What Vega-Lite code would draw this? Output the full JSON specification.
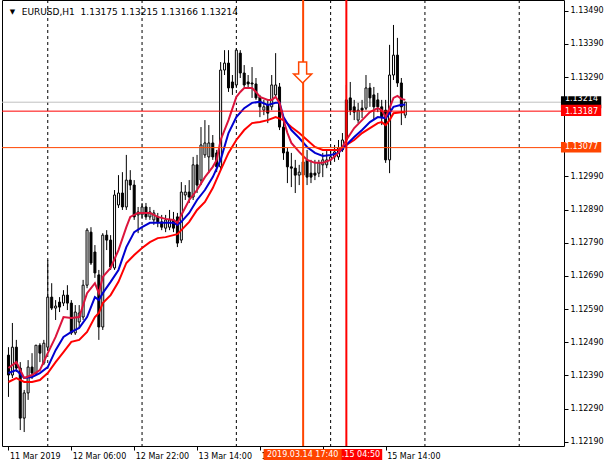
{
"$schema": "https://vega.github.io/schema/vega-lite/v6.json",
"width": 562, "height": 446,
"autosize": {"type": "none"},
"padding": {"left": 2, "top": 0, "right": 46, "bottom": 20},
"background": "white",
"config": {"view": {"stroke": "black", "strokeWidth": 1, "fill": "white"},
 "axis": {"labelOverlap": false, "labelFlush": false, "labelBound": false, "labelFont": "DejaVu Sans", "labelFontSize": 8, "labelColor": "black", "tickColor": "black", "tickSize": 4, "domain": false, "grid": false, "title": null}},
"datasets": {
"candles": [
{"t":14,"o":1.12451,"h":1.12475,"l":1.12325,"c":1.12391},
{"t":15,"o":1.12391,"h":1.12548,"l":1.12382,"c":1.12475},
{"t":16,"o":1.12475,"h":1.12497,"l":1.12400,"c":1.12412},
{"t":17,"o":1.12412,"h":1.12430,"l":1.12225,"c":1.12261},
{"t":18,"o":1.12261,"h":1.12346,"l":1.12219,"c":1.12337},
{"t":19,"o":1.12337,"h":1.12436,"l":1.12316,"c":1.12415},
{"t":20,"o":1.12415,"h":1.12457,"l":1.12379,"c":1.12397},
{"t":21,"o":1.12397,"h":1.12481,"l":1.12391,"c":1.12481},
{"t":22,"o":1.12481,"h":1.12487,"l":1.12430,"c":1.12457},
{"t":23,"o":1.12427,"h":1.12497,"l":1.12421,"c":1.12487},
{"t":24,"o":1.12475,"h":1.12738,"l":1.12466,"c":1.12626},
{"t":25,"o":1.12626,"h":1.12668,"l":1.12587,"c":1.12593},
{"t":26,"o":1.12593,"h":1.12617,"l":1.12557,"c":1.12599},
{"t":27,"o":1.12611,"h":1.12626,"l":1.12581,"c":1.12596},
{"t":28,"o":1.12608,"h":1.12647,"l":1.12599,"c":1.12632},
{"t":29,"o":1.12632,"h":1.12662,"l":1.12587,"c":1.12608},
{"t":30,"o":1.12608,"h":1.12617,"l":1.12512,"c":1.12518},
{"t":31,"o":1.12518,"h":1.12602,"l":1.12512,"c":1.12581},
{"t":32,"o":1.12551,"h":1.12602,"l":1.12533,"c":1.12578},
{"t":33,"o":1.12566,"h":1.12678,"l":1.12557,"c":1.12662},
{"t":34,"o":1.12662,"h":1.12834,"l":1.12653,"c":1.12828},
{"t":35,"o":1.12822,"h":1.12837,"l":1.12723,"c":1.12729},
{"t":36,"o":1.12762,"h":1.12783,"l":1.12684,"c":1.12699},
{"t":37,"o":1.12693,"h":1.12708,"l":1.12497,"c":1.12536},
{"t":38,"o":1.12536,"h":1.12819,"l":1.12527,"c":1.12813},
{"t":39,"o":1.12813,"h":1.12828,"l":1.12768,"c":1.12798},
{"t":40,"o":1.12798,"h":1.12813,"l":1.12708,"c":1.12717},
{"t":41,"o":1.12714,"h":1.12949,"l":1.12708,"c":1.12934},
{"t":42,"o":1.12904,"h":1.12994,"l":1.12895,"c":1.12940},
{"t":43,"o":1.12940,"h":1.13003,"l":1.12889,"c":1.12898},
{"t":44,"o":1.12898,"h":1.13055,"l":1.12889,"c":1.12979},
{"t":45,"o":1.12979,"h":1.13009,"l":1.12949,"c":1.12964},
{"t":46,"o":1.12964,"h":1.12979,"l":1.12859,"c":1.12868},
{"t":47,"o":1.12874,"h":1.12898,"l":1.12819,"c":1.12883},
{"t":48,"o":1.12874,"h":1.12910,"l":1.12865,"c":1.12898},
{"t":49,"o":1.12898,"h":1.12910,"l":1.12859,"c":1.12868},
{"t":50,"o":1.12868,"h":1.12898,"l":1.12859,"c":1.12883},
{"t":51,"o":1.12859,"h":1.12889,"l":1.12844,"c":1.12880},
{"t":52,"o":1.12868,"h":1.12880,"l":1.12837,"c":1.12853},
{"t":53,"o":1.12853,"h":1.12874,"l":1.12828,"c":1.12837},
{"t":54,"o":1.12834,"h":1.12874,"l":1.12822,"c":1.12859},
{"t":55,"o":1.12837,"h":1.12889,"l":1.12828,"c":1.12859},
{"t":56,"o":1.12859,"h":1.12883,"l":1.12822,"c":1.12834},
{"t":57,"o":1.12868,"h":1.12880,"l":1.12777,"c":1.12789},
{"t":58,"o":1.12798,"h":1.12973,"l":1.12789,"c":1.12943},
{"t":59,"o":1.12934,"h":1.12964,"l":1.12919,"c":1.12943},
{"t":60,"o":1.12943,"h":1.12979,"l":1.12910,"c":1.12928},
{"t":61,"o":1.12928,"h":1.13049,"l":1.12919,"c":1.13025},
{"t":62,"o":1.13025,"h":1.13055,"l":1.12940,"c":1.12964},
{"t":63,"o":1.12979,"h":1.13139,"l":1.12964,"c":1.13085},
{"t":64,"o":1.13055,"h":1.13160,"l":1.13046,"c":1.13091},
{"t":65,"o":1.13049,"h":1.13145,"l":1.13000,"c":1.13091},
{"t":66,"o":1.13091,"h":1.13115,"l":1.13040,"c":1.13049},
{"t":67,"o":1.13061,"h":1.13070,"l":1.13003,"c":1.13019},
{"t":68,"o":1.13019,"h":1.13335,"l":1.13009,"c":1.13311},
{"t":69,"o":1.13311,"h":1.13371,"l":1.13296,"c":1.13332},
{"t":70,"o":1.13332,"h":1.13371,"l":1.13245,"c":1.13257},
{"t":71,"o":1.13275,"h":1.13296,"l":1.13236,"c":1.13257},
{"t":72,"o":1.13266,"h":1.13377,"l":1.13257,"c":1.13371},
{"t":73,"o":1.13362,"h":1.13371,"l":1.13287,"c":1.13302},
{"t":74,"o":1.13302,"h":1.13326,"l":1.13260,"c":1.13266},
{"t":75,"o":1.13275,"h":1.13296,"l":1.13257,"c":1.13269},
{"t":76,"o":1.13272,"h":1.13320,"l":1.13227,"c":1.13269},
{"t":77,"o":1.13269,"h":1.13287,"l":1.13221,"c":1.13227},
{"t":78,"o":1.13230,"h":1.13236,"l":1.13169,"c":1.13200},
{"t":79,"o":1.13190,"h":1.13221,"l":1.13175,"c":1.13200},
{"t":80,"o":1.13206,"h":1.13221,"l":1.13151,"c":1.13181},
{"t":81,"o":1.13200,"h":1.13296,"l":1.13190,"c":1.13266},
{"t":82,"o":1.13236,"h":1.13362,"l":1.13227,"c":1.13266},
{"t":83,"o":1.13260,"h":1.13272,"l":1.13130,"c":1.13139},
{"t":84,"o":1.13139,"h":1.13160,"l":1.13040,"c":1.13061},
{"t":85,"o":1.13064,"h":1.13076,"l":1.12970,"c":1.13019},
{"t":86,"o":1.13019,"h":1.13061,"l":1.12958,"c":1.13015},
{"t":87,"o":1.13015,"h":1.13040,"l":1.12940,"c":1.12994},
{"t":88,"o":1.12994,"h":1.13025,"l":1.12964,"c":1.13003},
{"t":89,"o":1.13034,"h":1.13070,"l":1.12949,"c":1.12994},
{"t":90,"o":1.13040,"h":1.13070,"l":1.12964,"c":1.12988},
{"t":91,"o":1.13000,"h":1.13040,"l":1.12970,"c":1.12988},
{"t":92,"o":1.13000,"h":1.13040,"l":1.12979,"c":1.12994},
{"t":93,"o":1.13000,"h":1.13040,"l":1.12988,"c":1.13031},
{"t":94,"o":1.13025,"h":1.13061,"l":1.12988,"c":1.13040},
{"t":95,"o":1.13025,"h":1.13070,"l":1.13015,"c":1.13040},
{"t":96,"o":1.13040,"h":1.13070,"l":1.13025,"c":1.13049},
{"t":97,"o":1.13049,"h":1.13085,"l":1.13034,"c":1.13064},
{"t":98,"o":1.13049,"h":1.13100,"l":1.13040,"c":1.13076},
{"t":99,"o":1.13070,"h":1.13121,"l":1.13064,"c":1.13100},
{"t":100,"o":1.13100,"h":1.13266,"l":1.13085,"c":1.13221},
{"t":101,"o":1.13227,"h":1.13275,"l":1.13175,"c":1.13190},
{"t":102,"o":1.13200,"h":1.13221,"l":1.13160,"c":1.13184},
{"t":103,"o":1.13160,"h":1.13212,"l":1.13151,"c":1.13190},
{"t":104,"o":1.13196,"h":1.13221,"l":1.13166,"c":1.13190},
{"t":105,"o":1.13196,"h":1.13296,"l":1.13190,"c":1.13257},
{"t":106,"o":1.13257,"h":1.13272,"l":1.13200,"c":1.13227},
{"t":107,"o":1.13236,"h":1.13260,"l":1.13160,"c":1.13200},
{"t":108,"o":1.13221,"h":1.13242,"l":1.13184,"c":1.13200},
{"t":109,"o":1.13200,"h":1.13221,"l":1.13145,"c":1.13169},
{"t":110,"o":1.13190,"h":1.13221,"l":1.13031,"c":1.13040},
{"t":111,"o":1.13040,"h":1.13387,"l":1.13000,"c":1.13296},
{"t":112,"o":1.13296,"h":1.13447,"l":1.13281,"c":1.13356},
{"t":113,"o":1.13356,"h":1.13408,"l":1.13260,"c":1.13272},
{"t":114,"o":1.13272,"h":1.13287,"l":1.13145,"c":1.13200},
{"t":115,"o":1.13175,"h":1.13215,"l":1.13166,"c":1.13214}
],
"ma_crimson": [
{"t":14,"v":1.12412},{"t":16,"v":1.12430},{"t":18,"v":1.12382},{"t":20,"v":1.12391},{"t":22,"v":1.12406},
{"t":24,"v":1.12457},{"t":26,"v":1.12506},{"t":28,"v":1.12566},{"t":30,"v":1.12563},{"t":32,"v":1.12566},
{"t":34,"v":1.12638},{"t":36,"v":1.12668},{"t":37,"v":1.12638},{"t":38,"v":1.12687},{"t":40,"v":1.12714},
{"t":42,"v":1.12768},{"t":44,"v":1.12837},{"t":45,"v":1.12868},{"t":47,"v":1.12880},{"t":50,"v":1.12880},
{"t":52,"v":1.12868},{"t":54,"v":1.12862},{"t":56,"v":1.12859},{"t":57,"v":1.12850},{"t":58,"v":1.12874},
{"t":60,"v":1.12919},{"t":62,"v":1.12949},{"t":64,"v":1.12988},{"t":66,"v":1.13019},{"t":67,"v":1.13040},
{"t":68,"v":1.13100},{"t":70,"v":1.13160},{"t":72,"v":1.13230},{"t":73,"v":1.13245},{"t":74,"v":1.13257},
{"t":76,"v":1.13257},{"t":77,"v":1.13245},{"t":78,"v":1.13230},{"t":80,"v":1.13221},{"t":81,"v":1.13221},
{"t":82,"v":1.13230},{"t":83,"v":1.13212},{"t":84,"v":1.13160},{"t":85,"v":1.13121},{"t":86,"v":1.13091},
{"t":88,"v":1.13064},{"t":90,"v":1.13040},{"t":92,"v":1.13031},{"t":94,"v":1.13031},{"t":96,"v":1.13040},
{"t":98,"v":1.13061},{"t":99,"v":1.13079},{"t":100,"v":1.13100},{"t":102,"v":1.13136},{"t":104,"v":1.13160},
{"t":106,"v":1.13184},{"t":108,"v":1.13196},{"t":109,"v":1.13190},{"t":110,"v":1.13169},{"t":111,"v":1.13196},
{"t":112,"v":1.13227},{"t":113,"v":1.13233},{"t":114,"v":1.13224},{"t":115,"v":1.13221}
],
"ma_blue": [
{"t":14,"v":1.12397},{"t":16,"v":1.12406},{"t":18,"v":1.12382},{"t":20,"v":1.12385},{"t":22,"v":1.12397},
{"t":24,"v":1.12415},{"t":26,"v":1.12466},{"t":28,"v":1.12506},{"t":30,"v":1.12521},{"t":32,"v":1.12533},
{"t":34,"v":1.12566},{"t":36,"v":1.12626},{"t":37,"v":1.12617},{"t":38,"v":1.12638},{"t":40,"v":1.12672},
{"t":42,"v":1.12708},{"t":44,"v":1.12777},{"t":46,"v":1.12822},{"t":48,"v":1.12837},{"t":50,"v":1.12850},
{"t":52,"v":1.12850},{"t":54,"v":1.12850},{"t":56,"v":1.12850},{"t":57,"v":1.12844},{"t":58,"v":1.12853},
{"t":60,"v":1.12880},{"t":62,"v":1.12919},{"t":64,"v":1.12949},{"t":66,"v":1.12988},{"t":68,"v":1.13040},
{"t":70,"v":1.13121},{"t":72,"v":1.13169},{"t":74,"v":1.13196},{"t":76,"v":1.13212},{"t":78,"v":1.13215},
{"t":80,"v":1.13206},{"t":82,"v":1.13212},{"t":83,"v":1.13212},{"t":84,"v":1.13169},{"t":86,"v":1.13130},
{"t":88,"v":1.13106},{"t":90,"v":1.13079},{"t":92,"v":1.13061},{"t":94,"v":1.13052},{"t":96,"v":1.13055},
{"t":98,"v":1.13061},{"t":100,"v":1.13085},{"t":102,"v":1.13109},{"t":104,"v":1.13130},{"t":106,"v":1.13154},
{"t":108,"v":1.13169},{"t":110,"v":1.13166},{"t":111,"v":1.13181},{"t":112,"v":1.13200},{"t":114,"v":1.13206},
{"t":115,"v":1.13206}
],
"ma_red": [
{"t":14,"v":1.12370},{"t":16,"v":1.12382},{"t":18,"v":1.12370},{"t":20,"v":1.12370},{"t":22,"v":1.12376},
{"t":24,"v":1.12397},{"t":26,"v":1.12430},{"t":28,"v":1.12460},{"t":30,"v":1.12491},{"t":32,"v":1.12497},
{"t":34,"v":1.12521},{"t":36,"v":1.12566},{"t":37,"v":1.12578},{"t":38,"v":1.12608},{"t":40,"v":1.12632},
{"t":42,"v":1.12672},{"t":44,"v":1.12729},{"t":46,"v":1.12753},{"t":48,"v":1.12774},{"t":50,"v":1.12792},
{"t":52,"v":1.12804},{"t":54,"v":1.12807},{"t":56,"v":1.12813},{"t":57,"v":1.12816},{"t":58,"v":1.12828},
{"t":60,"v":1.12853},{"t":62,"v":1.12889},{"t":64,"v":1.12913},{"t":66,"v":1.12955},{"t":68,"v":1.13009},
{"t":70,"v":1.13061},{"t":72,"v":1.13100},{"t":74,"v":1.13130},{"t":76,"v":1.13151},{"t":78,"v":1.13154},
{"t":80,"v":1.13160},{"t":82,"v":1.13169},{"t":84,"v":1.13160},{"t":86,"v":1.13139},{"t":88,"v":1.13121},
{"t":90,"v":1.13100},{"t":92,"v":1.13079},{"t":94,"v":1.13070},{"t":96,"v":1.13070},{"t":98,"v":1.13070},
{"t":100,"v":1.13085},{"t":102,"v":1.13100},{"t":104,"v":1.13121},{"t":106,"v":1.13136},{"t":108,"v":1.13151},
{"t":109,"v":1.13154},{"t":110,"v":1.13145},{"t":111,"v":1.13160},{"t":112,"v":1.13181},{"t":114,"v":1.13184},
{"t":115,"v":1.13184}
]
},
"layer": [
{"data": {"values": [{"t":24},{"t":48},{"t":72},{"t":96},{"t":120},{"t":144}]},
 "mark": {"type": "rule", "color": "black", "strokeWidth": 1, "strokeDash": [3, 3]},
 "encoding": {"x": {"field": "t", "type": "quantitative", "scale": {"domain": [13.625, 154.125], "nice": false, "zero": false}}}},
{"data": {"values": [{"p": 1.13214}]},
 "mark": {"type": "rule", "color": "#C0C0C0", "strokeWidth": 1},
 "encoding": {"y": {"field": "p", "type": "quantitative", "scale": {"domain": [1.121769, 1.135223], "nice": false, "zero": false}}}},
{"data": {"name": "candles"},
 "mark": {"type": "rule", "color": "black", "strokeWidth": 1},
 "encoding": {
  "x": {"field": "t", "type": "quantitative", "scale": {"domain": [13.625, 154.125], "nice": false, "zero": false},
   "axis": {"orient": "bottom", "values": [14, 30, 46, 62, 78, 94, 110], "tickCount": 30,
    "labelExpr": "['11 Mar 2019','12 Mar 06:00','12 Mar 22:00','13 Mar 14:00','14 Mar 06:00','','15 Mar 14:00'][round((datum.value-14)/16)]",
    "labelAlign": "left", "labelBaseline": "top", "labelPadding": 2, "labelOffset": 1,
    "labelFont": "DejaVu Sans", "labelFontSize": 8, "labelColor": "black",
    "tickColor": "black", "tickSize": 4, "domain": false, "grid": false, "title": null,
    "labelOverlap": false, "labelFlush": false, "labelBound": false}},
  "y": {"field": "l", "type": "quantitative", "scale": {"domain": [1.121769, 1.135223], "nice": false, "zero": false},
   "axis": {"orient": "right", "values": [1.1219, 1.1229, 1.1239, 1.1249, 1.1259, 1.1269, 1.1279, 1.1289, 1.1299, 1.1309, 1.1319, 1.1329, 1.1339, 1.1349], "tickCount": 30,
    "labelExpr": "(abs(datum.value - 1.1319) < 0.00005 || abs(datum.value - 1.1309) < 0.00005) ? '' : format(datum.value, '.5f')",
    "labelFont": "DejaVu Sans", "labelFontSize": 8, "labelColor": "black",
    "tickColor": "black", "tickSize": 4, "labelPadding": 2, "domain": false, "grid": false, "title": null,
    "labelOverlap": false, "labelFlush": false, "labelBound": false}},
  "y2": {"field": "h"}}},
{"data": {"name": "candles"},
 "mark": {"type": "bar", "orient": "vertical", "size": 2, "stroke": "black", "strokeWidth": 1},
 "encoding": {
  "x": {"field": "t", "type": "quantitative", "scale": {"domain": [13.625, 154.125], "nice": false, "zero": false}},
  "y": {"field": "o", "type": "quantitative", "scale": {"domain": [1.121769, 1.135223], "nice": false, "zero": false}},
  "y2": {"field": "c"},
  "fill": {"condition": {"test": "datum.c >= datum.o", "value": "white"}, "value": "black"}}},
{"data": {"name": "ma_red"},
 "mark": {"type": "line", "color": "#FF0000", "strokeWidth": 2},
 "encoding": {
  "x": {"field": "t", "type": "quantitative", "scale": {"domain": [13.625, 154.125], "nice": false, "zero": false}},
  "y": {"field": "v", "type": "quantitative", "scale": {"domain": [1.121769, 1.135223], "nice": false, "zero": false}}}},
{"data": {"name": "ma_blue"},
 "mark": {"type": "line", "color": "#0000D0", "strokeWidth": 2},
 "encoding": {
  "x": {"field": "t", "type": "quantitative", "scale": {"domain": [13.625, 154.125], "nice": false, "zero": false}},
  "y": {"field": "v", "type": "quantitative", "scale": {"domain": [1.121769, 1.135223], "nice": false, "zero": false}}}},
{"data": {"name": "ma_crimson"},
 "mark": {"type": "line", "color": "#DC143C", "strokeWidth": 2},
 "encoding": {
  "x": {"field": "t", "type": "quantitative", "scale": {"domain": [13.625, 154.125], "nice": false, "zero": false}},
  "y": {"field": "v", "type": "quantitative", "scale": {"domain": [1.121769, 1.135223], "nice": false, "zero": false}}}},
{"data": {"values": [{"p": 1.13187}]},
 "mark": {"type": "rule", "color": "#FF0000", "strokeWidth": 1},
 "encoding": {"y": {"field": "p", "type": "quantitative", "scale": {"domain": [1.121769, 1.135223], "nice": false, "zero": false}}}},
{"data": {"values": [{"p": 1.13077}]},
 "mark": {"type": "rule", "color": "#FF4500", "strokeWidth": 1},
 "encoding": {"y": {"field": "p", "type": "quantitative", "scale": {"domain": [1.121769, 1.135223], "nice": false, "zero": false}}}},
{"data": {"values": [{"t": 89}]},
 "mark": {"type": "rule", "color": "#FF4500", "strokeWidth": 2},
 "encoding": {"x": {"field": "t", "type": "quantitative", "scale": {"domain": [13.625, 154.125], "nice": false, "zero": false}}}},
{"data": {"values": [{"t": 100}]},
 "mark": {"type": "rule", "color": "#FF0000", "strokeWidth": 2},
 "encoding": {"x": {"field": "t", "type": "quantitative", "scale": {"domain": [13.625, 154.125], "nice": false, "zero": false}}}},
{"data": {"values": [{}]},
 "mark": {"type": "point", "shape": "M -0.38 -1 L 0.38 -1 L 0.38 0.14 L 0.86 0.14 L 0 1 L -0.86 0.14 L -0.38 0.14 Z", "size": 441, "filled": false, "fill": "white", "fillOpacity": 1, "stroke": "#FF4500", "strokeWidth": 1.5, "opacity": 1},
 "encoding": {
  "x": {"datum": 88.875, "type": "quantitative", "scale": {"domain": [13.625, 154.125], "nice": false, "zero": false}},
  "y": {"datum": 1.133036, "type": "quantitative", "scale": {"domain": [1.121769, 1.135223], "nice": false, "zero": false}}}},
{"data": {"values": [{"label": "▼"}]},
 "mark": {"type": "text", "align": "center", "baseline": "middle", "color": "black", "font": "DejaVu Sans", "fontSize": 7},
 "encoding": {
  "x": {"datum": 15, "type": "quantitative", "scale": {"domain": [13.625, 154.125], "nice": false, "zero": false}},
  "y": {"datum": 1.13486, "type": "quantitative", "scale": {"domain": [1.121769, 1.135223], "nice": false, "zero": false}},
  "text": {"field": "label"}}},
{"data": {"values": [{"label": "EURUSD,H1\u00a0\u00a01.13175 1.13215 1.13166 1.13214"}]},
 "mark": {"type": "text", "align": "left", "baseline": "middle", "color": "black", "font": "DejaVu Sans", "fontSize": 9},
 "encoding": {
  "x": {"datum": 17.375, "type": "quantitative", "scale": {"domain": [13.625, 154.125], "nice": false, "zero": false}},
  "y": {"datum": 1.13486, "type": "quantitative", "scale": {"domain": [1.121769, 1.135223], "nice": false, "zero": false}},
  "text": {"field": "label"}}},
{"data": {"values": [{}]},
 "mark": {"type": "rect", "fill": "black"},
 "encoding": {
  "x": {"datum": 154.625, "type": "quantitative", "scale": {"domain": [13.625, 154.125], "nice": false, "zero": false}},
  "x2": {"datum": 164.875},
  "y": {"datum": 1.13232, "type": "quantitative", "scale": {"domain": [1.121769, 1.135223], "nice": false, "zero": false}},
  "y2": {"datum": 1.13196}}},
{"data": {"values": [{"label": "1.13214"}]},
 "mark": {"type": "text", "align": "left", "baseline": "middle", "color": "white", "font": "DejaVu Sans", "fontSize": 8},
 "encoding": {
  "x": {"datum": 155.625, "type": "quantitative", "scale": {"domain": [13.625, 154.125], "nice": false, "zero": false}},
  "y": {"datum": 1.13225, "type": "quantitative", "scale": {"domain": [1.121769, 1.135223], "nice": false, "zero": false}},
  "text": {"field": "label"}}},
{"data": {"values": [{}]},
 "mark": {"type": "rect", "fill": "#FF0000"},
 "encoding": {
  "x": {"datum": 154.625, "type": "quantitative", "scale": {"domain": [13.625, 154.125], "nice": false, "zero": false}},
  "x2": {"datum": 164.875},
  "y": {"datum": 1.13206, "type": "quantitative", "scale": {"domain": [1.121769, 1.135223], "nice": false, "zero": false}},
  "y2": {"datum": 1.13172}}},
{"data": {"values": [{"label": "1.13187"}]},
 "mark": {"type": "text", "align": "left", "baseline": "middle", "color": "white", "font": "DejaVu Sans", "fontSize": 8},
 "encoding": {
  "x": {"datum": 155.625, "type": "quantitative", "scale": {"domain": [13.625, 154.125], "nice": false, "zero": false}},
  "y": {"datum": 1.13185, "type": "quantitative", "scale": {"domain": [1.121769, 1.135223], "nice": false, "zero": false}},
  "text": {"field": "label"}}},
{"data": {"values": [{}]},
 "mark": {"type": "rect", "fill": "#FF4500"},
 "encoding": {
  "x": {"datum": 154.625, "type": "quantitative", "scale": {"domain": [13.625, 154.125], "nice": false, "zero": false}},
  "x2": {"datum": 164.875},
  "y": {"datum": 1.13094, "type": "quantitative", "scale": {"domain": [1.121769, 1.135223], "nice": false, "zero": false}},
  "y2": {"datum": 1.13062}}},
{"data": {"values": [{"label": "1.13077"}]},
 "mark": {"type": "text", "align": "left", "baseline": "middle", "color": "white", "font": "DejaVu Sans", "fontSize": 8},
 "encoding": {
  "x": {"datum": 155.625, "type": "quantitative", "scale": {"domain": [13.625, 154.125], "nice": false, "zero": false}},
  "y": {"datum": 1.13078, "type": "quantitative", "scale": {"domain": [1.121769, 1.135223], "nice": false, "zero": false}},
  "text": {"field": "label"}}},
{"data": {"values": [{}]},
 "mark": {"type": "rect", "fill": "#FF0000"},
 "encoding": {
  "x": {"datum": 90.625, "type": "quantitative", "scale": {"domain": [13.625, 154.125], "nice": false, "zero": false}},
  "x2": {"datum": 109.125},
  "y": {"datum": 1.121677, "type": "quantitative", "scale": {"domain": [1.121769, 1.135223], "nice": false, "zero": false}},
  "y2": {"datum": 1.121345}}},
{"data": {"values": [{"label": ".15 04:50"}]},
 "mark": {"type": "text", "align": "right", "baseline": "middle", "color": "white", "font": "DejaVu Sans", "fontSize": 8},
 "encoding": {
  "x": {"datum": 108.6, "type": "quantitative", "scale": {"domain": [13.625, 154.125], "nice": false, "zero": false}},
  "y": {"datum": 1.121511, "type": "quantitative", "scale": {"domain": [1.121769, 1.135223], "nice": false, "zero": false}},
  "text": {"field": "label"}}},
{"data": {"values": [{}]},
 "mark": {"type": "rect", "fill": "#FF4500"},
 "encoding": {
  "x": {"datum": 78.95, "type": "quantitative", "scale": {"domain": [13.625, 154.125], "nice": false, "zero": false}},
  "x2": {"datum": 98.8},
  "y": {"datum": 1.121677, "type": "quantitative", "scale": {"domain": [1.121769, 1.135223], "nice": false, "zero": false}},
  "y2": {"datum": 1.121345}}},
{"data": {"values": [{"label": "2019.03.14 17:40"}]},
 "mark": {"type": "text", "align": "center", "baseline": "middle", "color": "white", "font": "DejaVu Sans", "fontSize": 8},
 "encoding": {
  "x": {"datum": 88.875, "type": "quantitative", "scale": {"domain": [13.625, 154.125], "nice": false, "zero": false}},
  "y": {"datum": 1.121511, "type": "quantitative", "scale": {"domain": [1.121769, 1.135223], "nice": false, "zero": false}},
  "text": {"field": "label"}}}
]
}
